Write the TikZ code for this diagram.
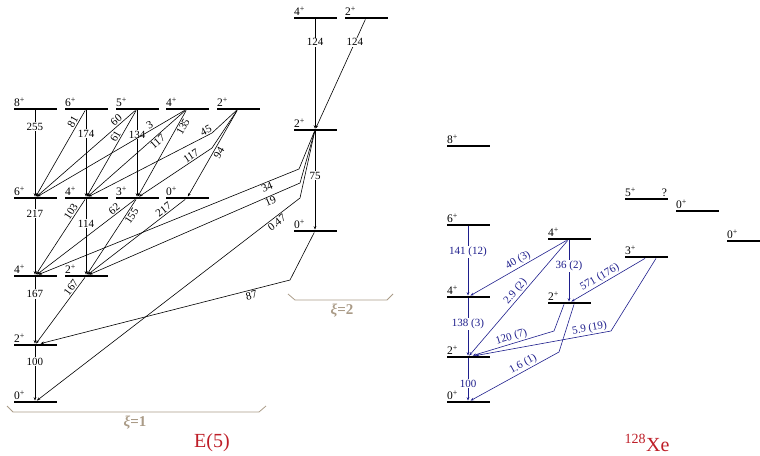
\documentclass[tikz,border=0pt]{standalone}
\usepackage{fontspec}
\setmainfont{Liberation Serif}
\usetikzlibrary{arrows.meta}
\definecolor{xeblue}{RGB}{30,30,140}
\definecolor{e5red}{RGB}{190,30,40}
\definecolor{xitan}{RGB}{170,155,135}

\begin{document}
\begin{tikzpicture}[x=1pt,y=-1pt]
  \tikzset{level/.style = {fill=black,minimum width=43pt,minimum height=2.4pt,inner sep=0pt}}
  \tikzset{spin/.style = {anchor=south west,inner sep=0.6pt,font=\fontsize{11.5}{11.5}\selectfont}}
  \tikzset{trans/.style = {-{Stealth[length=3.5pt,width=2.6pt]},line width=0.6pt}}
  \tikzset{xetrans/.style = {trans,draw=xeblue}}
  \tikzset{vlab/.style = {fill=white,inner sep=1pt,font=\fontsize{11}{11}\selectfont}}
  \tikzset{slab/.style = {sloped,inner sep=1.2pt,font=\fontsize{11}{11}\selectfont}}
  \tikzset{xelab/.style = {text=xeblue}}
  \tikzset{brace/.style = {draw=xitan,line width=0.8pt}}
  \tikzset{xilab/.style = {text=xitan,font=\fontsize{15}{15}\selectfont\bfseries}}
  \tikzset{title/.style = {text=e5red,font=\fontsize{20}{20}\selectfont}}

  \useasboundingbox (0,0) rectangle (760,455);

  % E(5), xi=1
  \node[level,label={[spin]north west:8\textsuperscript{+}}] (a8) at (35,109) {};
  \node[level,label={[spin]north west:6\textsuperscript{+}}] (b6) at (86,109) {};
  \node[level,label={[spin]north west:5\textsuperscript{+}}] (c5) at (137,109) {};
  \node[level,label={[spin]north west:4\textsuperscript{+}}] (d4) at (187,109) {};
  \node[level,label={[spin]north west:2\textsuperscript{+}}] (e2) at (238,109) {};
  \node[level,label={[spin]north west:6\textsuperscript{+}}] (a6) at (35,198) {};
  \node[level,label={[spin]north west:4\textsuperscript{+}}] (b4) at (86,198) {};
  \node[level,label={[spin]north west:3\textsuperscript{+}}] (c3) at (137,198) {};
  \node[level,label={[spin]north west:0\textsuperscript{+}}] (d0) at (187,198) {};
  \node[level,label={[spin]north west:4\textsuperscript{+}}] (a4) at (35,276) {};
  \node[level,label={[spin]north west:2\textsuperscript{+}}] (b2) at (86,276) {};
  \node[level,label={[spin]north west:2\textsuperscript{+}}] (a2) at (35,345) {};
  \node[level,label={[spin]north west:0\textsuperscript{+}}] (a0) at (35,402) {};

  % E(5), xi=2
  \node[level,label={[spin]north west:4\textsuperscript{+}}] (f4) at (315,18) {};
  \node[level,label={[spin]north west:2\textsuperscript{+}}] (g2) at (366,18) {};
  \node[level,label={[spin]north west:2\textsuperscript{+}}] (f2) at (315,130) {};
  \node[level,label={[spin]north west:0\textsuperscript{+}}] (f0) at (315,231) {};

  % 128Xe
  \node[level,label={[spin]north west:8\textsuperscript{+}}] (x8) at (468,146) {};
  \node[level,label={[spin]north west:6\textsuperscript{+}}] (x6) at (468,225) {};
  \node[level,label={[spin]north west:4\textsuperscript{+}}] (x4) at (468,297) {};
  \node[level,label={[spin]north west:2\textsuperscript{+}}] (x2) at (468,357) {};
  \node[level,label={[spin]north west:0\textsuperscript{+}}] (x0) at (468,402) {};
  \node[level,label={[spin]north west:4\textsuperscript{+}}] (y4) at (569,239) {};
  \node[level,label={[spin]north west:2\textsuperscript{+}}] (y2) at (569,303) {};
  \node[level,label={[spin]north west:5\textsuperscript{+}},
        label={[spin,anchor=south east]north east:?}] (z5) at (646,199) {};
  \node[level,label={[spin]north west:3\textsuperscript{+}}] (z3) at (646,257) {};
  \node[level,label={[spin]north west:0\textsuperscript{+}}] (w0) at (697,211) {};
  \node[level,label={[spin]north west:0\textsuperscript{+}}] (v0) at (748,241) {};

  \draw[trans] (a8) -- node[vlab,pos=0.19]{255} (a6);
  \draw[trans] (b6) -- node[slab,above,pos=0.16]{81} (a6);
  \draw[trans] (b6) -- node[vlab,pos=0.27]{174} (b4);
  \draw[trans] (c5) -- node[slab,above,pos=0.16]{60} (a6);
  \draw[trans] (c5) -- node[slab,above,pos=0.33]{61} (b4);
  \draw[trans] (c5) -- node[vlab,pos=0.28]{134} (c3);
  \draw[trans] (d4) -- node[slab,above,pos=0.22]{3} (a6);
  \draw[trans] (d4) -- node[slab,below,pos=0.32]{117} (b4);
  \draw[trans] (d4) -- node[slab,below,pos=0.16]{135} (c3);
  \draw[trans] (e2) -- (212,133) -- node[slab,above,pos=0.03]{45} (b4);
  \draw[trans] (e2) -- (212,148) -- node[slab,above,pos=0.25]{117} (c3);
  \draw[trans] (e2) -- node[slab,below,pos=0.46]{94} (d0);
  \draw[trans] (a6) -- node[vlab,pos=0.19]{217} (a4);
  \draw[trans] (b4) -- node[slab,above,pos=0.2]{103} (a4);
  \draw[trans] (b4) -- node[vlab,pos=0.32]{114} (b2);
  \draw[trans] (c3) -- node[slab,above,pos=0.18]{62} (a4);
  \draw[trans] (c3) -- node[slab,below,pos=0.18]{155} (b2);
  \draw[trans] (d0) -- node[slab,above,pos=0.19]{217} (b2);
  \draw[trans] (a4) -- node[vlab,pos=0.25]{167} (a2);
  \draw[trans] (b2) -- node[slab,above,pos=0.2]{167} (a2);
  \draw[trans] (a2) -- node[vlab,pos=0.28]{100} (a0);

  \draw[trans] (f4) -- node[vlab,pos=0.21]{124} (f2);
  \draw[trans] (g2) -- node[vlab,pos=0.21]{124} (f2);
  \draw[trans] (f2) -- node[vlab,pos=0.45]{75} (f0);
  \draw[trans] (f2) -- (299,169) -- node[slab,below,pos=0.13]{34} (a4);
  \draw[trans] (f2) -- (300,183) -- node[slab,below,pos=0.15]{19} (b2);
  \draw[trans] (f2) -- (300,198) -- node[slab,below,pos=0.1]{0.47} (a0);
  \draw[trans] (f0) -- (290,280) -- node[slab,below,pos=0.16]{87} (a2);

  \draw[xetrans] (x6) -- node[vlab,xelab,pos=0.375]{141 (12)} (x4);
  \draw[xetrans] (x4) -- node[vlab,xelab,pos=0.45]{138 (3)} (x2);
  \draw[xetrans] (x2) -- node[vlab,xelab,pos=0.6]{100} (x0);
  \draw[xetrans] (y4) -- node[slab,xelab,above,pos=0.47]{40 (3)} (x4);
  \draw[xetrans] (y4) -- node[slab,xelab,above,pos=0.48]{2.9 (2)} (x2);
  \draw[xetrans] (y4) -- node[vlab,xelab,pos=0.42]{36 (2)} (y2);
  \draw[xetrans] ([xshift=-1pt]z3.south) -- node[slab,xelab,above,pos=0.57]{571 (176)} (y2);
  \draw[xetrans] ([xshift=10pt]z3.south) -- (611,331) -- node[slab,xelab,above,pos=0.15]{5.9 (19)} (x2);
  \draw[xetrans] ([xshift=-5pt]y2.south) -- (554,331) -- node[slab,xelab,above,pos=0.5]{120 (7)} (x2);
  \draw[xetrans] ([xshift=5pt]y2.south) -- (559,352) -- node[slab,xelab,above,pos=0.37]{1.6 (1)} (x0);

  % braces and titles
  \draw[brace] (7,406) -- (13,412) -- (259,412) -- (266,406);
  \node[xilab] (xi1) at (135,423) {\textit{ξ}=1};
  \draw[brace] (288,294) -- (295,300) -- (387,300) -- (393,294);
  \node[xilab] (xi2) at (342,311) {\textit{ξ}=2};
  \node[title] (e5) at (212,443) {E(5)};
  \node[title] (xe) at (647,443) {\textsuperscript{128}Xe};
\end{tikzpicture}
\end{document}
